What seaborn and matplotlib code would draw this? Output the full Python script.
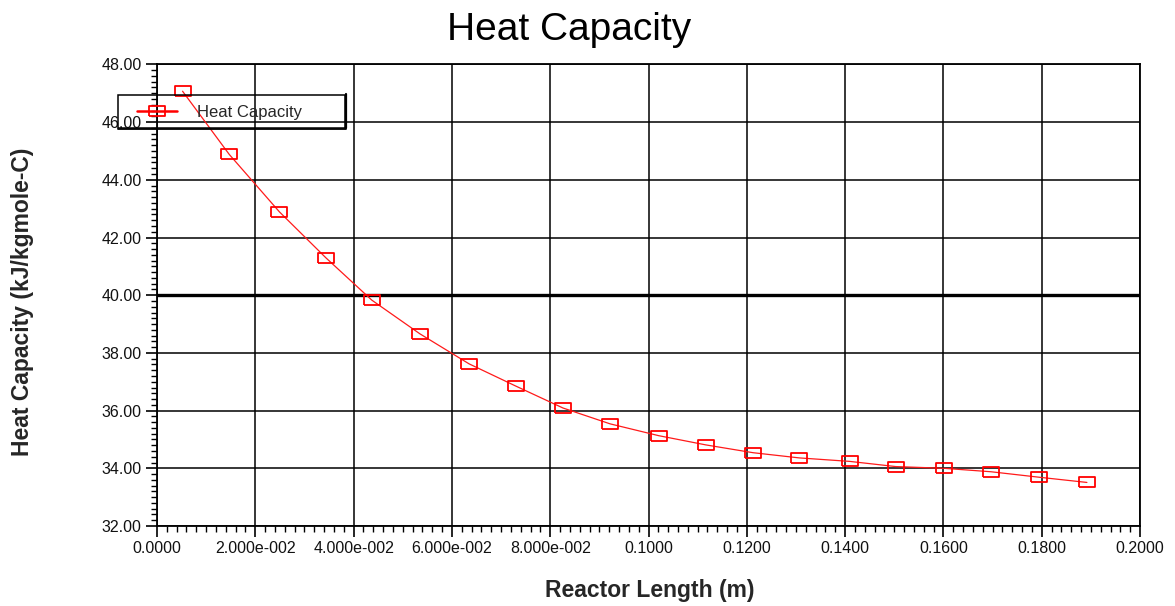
import matplotlib
matplotlib.use("Agg")
import matplotlib.pyplot as plt
import matplotlib.patches as mpatches
from matplotlib.lines import Line2D
from matplotlib.ticker import MultipleLocator, FixedLocator, FixedFormatter
import seaborn as sns
import pandas as pd

# Heat capacity profile along the reactor
reactor_length = [0.0052, 0.0147, 0.0249, 0.0344, 0.0437, 0.0535, 0.0635, 0.0730,
                  0.0826, 0.0922, 0.1021, 0.1117, 0.1213, 0.1307, 0.1409, 0.1503,
                  0.1601, 0.1697, 0.1795, 0.1892]
heat_capacity = [47.07, 44.88, 42.89, 41.29, 39.83, 38.66, 37.62, 36.85,
                 36.09, 35.54, 35.13, 34.81, 34.54, 34.36, 34.24, 34.06,
                 34.00, 33.88, 33.69, 33.51]

x_ticks = [0.0, 0.02, 0.04, 0.06, 0.08, 0.10, 0.12, 0.14, 0.16, 0.18, 0.20]
x_tick_labels = ["0.0000", "2.000e-002", "4.000e-002", "6.000e-002", "8.000e-002",
                 "0.1000", "0.1200", "0.1400", "0.1600", "0.1800", "0.2000"]
y_ticks = [32, 34, 36, 38, 40, 42, 44, 46, 48]
y_tick_labels = ["32.00", "34.00", "36.00", "38.00", "40.00", "42.00", "44.00", "46.00", "48.00"]

series_name = "Heat Capacity"
df = pd.DataFrame({"Reactor Length (m)": reactor_length, series_name: heat_capacity})

sns.set_theme(style="ticks")
plt.rcParams["font.family"] = ["Liberation Sans", "DejaVu Sans"]

W, H = 1175, 606
fig = plt.figure(figsize=(W / 100, H / 100), dpi=100)
ax = fig.add_axes([157 / W, 1 - 526 / H, (1140 - 157) / W, (526 - 64.4) / H])

# open rectangular marker, wider than tall
rect_marker = [(-0.8, -0.5), (0.8, -0.5), (0.8, 0.5), (-0.8, 0.5), (-0.8, -0.5)]

sns.lineplot(data=df, x="Reactor Length (m)", y=series_name, ax=ax,
             color="#ff1a1a", linewidth=0.9, marker=rect_marker, markersize=12,
             markerfacecolor="none", markeredgecolor="#ff0000", markeredgewidth=1.3,
             legend=False, zorder=5)

ax.set_xlim(0, 0.2)
ax.set_ylim(32, 48)

ax.xaxis.set_major_locator(FixedLocator(x_ticks))
ax.xaxis.set_major_formatter(FixedFormatter(x_tick_labels))
ax.yaxis.set_major_locator(FixedLocator(y_ticks))
ax.yaxis.set_major_formatter(FixedFormatter(y_tick_labels))
ax.xaxis.set_minor_locator(MultipleLocator(0.002))
ax.yaxis.set_minor_locator(MultipleLocator(0.2))

ax.tick_params(which="major", direction="out", length=8, width=1.2, color="black",
               labelsize=11.5, labelcolor="#111111", pad=3)
ax.tick_params(which="minor", direction="out", length=4, width=1.0, color="black")

ax.grid(True, which="major", color="black", linewidth=1.1)
ax.axhline(40, color="black", linewidth=2.4, zorder=2)
for sp in ax.spines.values():
    sp.set_visible(True)
    sp.set_color("black")
    sp.set_linewidth(1.3)

ax.set_xlabel("Reactor Length (m)", fontsize=16.5, fontweight="bold", va="center")
ax.set_ylabel("Heat Capacity (kJ/kgmole-C)", fontsize=16.5, fontweight="bold", va="center")
ax.xaxis.set_label_coords((650 - 157) / (1140 - 157), (526 - 591) / (526 - 64.4))
ax.yaxis.set_label_coords((23 - 157) / (1140 - 157), (526 - 302) / (526 - 64.4))

fig.text(569 / W, 1 - 40 / H, "Heat Capacity", ha="center", va="baseline",
         fontsize=28, color="black")

# legend entry and its boxed frame
handle = Line2D([], [], color="#ff0000", linewidth=1.8, marker=rect_marker, markersize=12,
                markerfacecolor="none", markeredgecolor="#ff0000", markeredgewidth=1.3)
leg = ax.legend([handle], [series_name], loc="center left",
                bbox_to_anchor=(137 / W, 1 - 112 / H), bbox_transform=fig.transFigure,
                frameon=False, fontsize=12, handlelength=2.4, handletextpad=1.2,
                borderpad=0, borderaxespad=0)
leg.set_zorder(10)

x0, x1 = 118 / W, 345 / W
y0, y1 = 1 - 128 / H, 1 - 95 / H
fig.add_artist(mpatches.Rectangle((x0, y0), x1 - x0, y1 - y0, transform=fig.transFigure,
                                  fill=False, edgecolor="black", linewidth=1.1, zorder=10))
fig.add_artist(Line2D([x1 + 1 / W, x1 + 1 / W], [y0, y1 + 1 / H],
                      transform=fig.transFigure, color="black", linewidth=1.6, zorder=10))
fig.add_artist(Line2D([x0, x1 + 1 / W], [y0 - 0.5 / H, y0 - 0.5 / H],
                      transform=fig.transFigure, color="black", linewidth=1.3, zorder=10))

fig.savefig("out.png", dpi=100, facecolor="white")
